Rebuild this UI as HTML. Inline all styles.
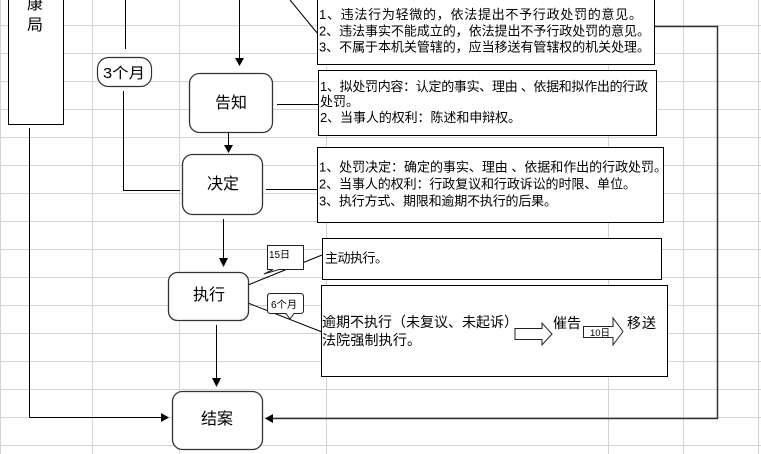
<!DOCTYPE html>
<html>
<head>
<meta charset="utf-8">
<style>
html,body{margin:0;padding:0;background:#fff;}
svg{display:block;}
text{font-family:"Liberation Sans","Noto Sans CJK SC",sans-serif;fill:#000;}
</style>
</head>
<body>
<svg width="761" height="454" viewBox="0 0 761 454" xmlns="http://www.w3.org/2000/svg">
<!-- grid -->
<g stroke="#d4d4d4" stroke-width="1">
<line x1="0" y1="25.5" x2="761" y2="25.5"/>
<line x1="0" y1="53.5" x2="761" y2="53.5"/>
<line x1="0" y1="81.5" x2="761" y2="81.5"/>
<line x1="0" y1="109.5" x2="761" y2="109.5"/>
<line x1="0" y1="137.5" x2="761" y2="137.5"/>
<line x1="0" y1="165.5" x2="761" y2="165.5"/>
<line x1="0" y1="193.5" x2="761" y2="193.5"/>
<line x1="0" y1="221.5" x2="761" y2="221.5"/>
<line x1="0" y1="249.5" x2="761" y2="249.5"/>
<line x1="0" y1="277.5" x2="761" y2="277.5"/>
<line x1="0" y1="305.5" x2="761" y2="305.5"/>
<line x1="0" y1="333.5" x2="761" y2="333.5"/>
<line x1="0" y1="361.5" x2="761" y2="361.5"/>
<line x1="0" y1="389.5" x2="761" y2="389.5"/>
<line x1="0" y1="417.5" x2="761" y2="417.5"/>
<line x1="0" y1="445.5" x2="761" y2="445.5"/>
<line x1="0.5" y1="0" x2="0.5" y2="454"/>
<line x1="92.5" y1="0" x2="92.5" y2="454"/>
<line x1="179.5" y1="0" x2="179.5" y2="454"/>
<line x1="326.5" y1="0" x2="326.5" y2="454"/>
<line x1="608.5" y1="0" x2="608.5" y2="454"/>
<line x1="683.5" y1="0" x2="683.5" y2="454"/>
<line x1="758.5" y1="0" x2="758.5" y2="454"/>
</g>

<!-- connector lines -->
<g stroke="#000" stroke-width="1" fill="none">
<line x1="29.5" y1="128" x2="29.5" y2="417.5"/>
<line x1="29.5" y1="417.5" x2="163" y2="417.5"/>
<line x1="125.5" y1="0" x2="125.5" y2="49"/>
<polyline points="123.5,91 123.5,190.5 180,190.5"/>
<line x1="239.5" y1="0" x2="239.5" y2="59"/>
<line x1="290" y1="0" x2="318" y2="34"/>
<line x1="277" y1="104.5" x2="318" y2="104.5"/>
<line x1="228.5" y1="133" x2="228.5" y2="146"/>
<line x1="266" y1="189.5" x2="317" y2="189.5"/>
<line x1="223.5" y1="219" x2="223.5" y2="259"/>
<line x1="248" y1="285" x2="322" y2="255"/>
<line x1="248" y1="303" x2="322" y2="332"/>
<line x1="216.5" y1="325" x2="216.5" y2="379"/>
<polyline points="655,26.5 717.5,26.5 717.5,418.5 272,418.5" stroke="#333" stroke-width="1.5"/>
</g>
<!-- arrowheads -->
<g fill="#000">
<polygon points="235,58 244,58 239.5,66"/>
<polygon points="224,145 233,145 228.5,153"/>
<polygon points="219,258 228,258 223.5,267"/>
<polygon points="212,378 221,378 216.5,387"/>
<polygon points="161,413 161,422 169,417.5"/>
<polygon points="273,414 273,423 265,418.5"/>
</g>

<!-- left tall box -->
<rect x="8.5" y="-2" width="55" height="126.5" fill="#fff" stroke="#000" stroke-width="1"/>
<text x="35" y="9" font-size="16" text-anchor="middle">康</text>
<text x="35" y="30" font-size="16" text-anchor="middle">局</text>

<!-- 3个月 capsule -->
<rect x="97.5" y="57.5" width="54" height="29" rx="11" ry="11" fill="#fff" stroke="#333" stroke-width="1.2"/>
<text x="103" y="78" font-size="15" textLength="42" lengthAdjust="spacingAndGlyphs">3个月</text>

<!-- rounded process boxes -->
<g fill="#fff" stroke="#333" stroke-width="1.3">
<rect x="189.5" y="73.5" width="83" height="59" rx="10" ry="10"/>
<rect x="182.5" y="154.5" width="80" height="60" rx="10" ry="10"/>
<rect x="168.5" y="272.5" width="80" height="48" rx="9" ry="9"/>
<rect x="172.5" y="391.5" width="90" height="58" rx="10" ry="10"/>
</g>
<text x="231" y="108" font-size="16" text-anchor="middle">告知</text>
<text x="223" y="189" font-size="16" text-anchor="middle">决定</text>
<text x="209" y="300" font-size="16" text-anchor="middle">执行</text>
<text x="217" y="424" font-size="16" text-anchor="middle">结案</text>

<!-- text boxes -->
<g fill="#fff" stroke="#000" stroke-width="1">
<rect x="317.5" y="-2" width="337" height="66.5"/>
<rect x="318.5" y="70.5" width="338" height="65"/>
<rect x="317.5" y="147.5" width="346" height="75"/>
<rect x="322.5" y="238.5" width="339" height="41"/>
<rect x="321.5" y="285.5" width="346" height="91"/>
</g>

<g font-size="13">
<text x="319" y="19" textLength="323" lengthAdjust="spacing">1、违法行为轻微的，依法提出不予行政处罚的意见。</text>
<text x="319" y="35.5" textLength="331" lengthAdjust="spacing">2、违法事实不能成立的，依法提出不予行政处罚的意见。</text>
<text x="319" y="51.5" textLength="331" lengthAdjust="spacing">3、不属于本机关管辖的，应当移送有管辖权的机关处理。</text>

<text x="320" y="91" textLength="328" lengthAdjust="spacing">1、拟处罚内容：认定的事实、理由 、依据和拟作出的行政</text>
<text x="320" y="106">处罚。</text>
<text x="320" y="122" textLength="201" lengthAdjust="spacing">2、当事人的权利：陈述和申辩权。</text>

<text x="319" y="171.5" textLength="348" lengthAdjust="spacing">1、处罚决定：确定的事实、理由 、依据和作出的行政处罚。</text>
<text x="319" y="188.5" textLength="317" lengthAdjust="spacing">2、当事人的权利：行政复议和行政诉讼的时限、单位。</text>
<text x="319" y="205.5" textLength="238" lengthAdjust="spacing">3、执行方式、期限和逾期不执行的后果。</text>

<text x="325" y="262.5" textLength="63" lengthAdjust="spacing">主动执行。</text>
</g>

<g font-size="14">
<text x="322" y="327" textLength="196" lengthAdjust="spacing">逾期不执行（未复议、未起诉）</text>
<text x="322" y="345" textLength="99" lengthAdjust="spacing">法院强制执行。</text>
<text x="553" y="328" textLength="28" lengthAdjust="spacing">催告</text>
<text x="627" y="328" textLength="29" lengthAdjust="spacing">移送</text>
</g>

<!-- block arrows -->
<polygon points="515,328.5 542,328.5 542,323 552,334 542,345 542,339.5 515,339.5" fill="#fff" stroke="#222" stroke-width="1"/>
<polygon points="583.5,326.5 613,326.5 613,318 623,331.5 613,345 613,337.5 583.5,337.5" fill="#fff" stroke="#222" stroke-width="1"/>
<text x="590" y="336" font-size="9.5" textLength="20" lengthAdjust="spacingAndGlyphs">10日</text>

<!-- callouts -->
<path d="M267.5,245.5 H303.5 V269.5 H279 L264,274 L273,269.5 H267.5 Z" fill="#fff" stroke="#222" stroke-width="1"/>
<text x="269" y="258" font-size="10" textLength="21" lengthAdjust="spacingAndGlyphs">15日</text>
<path d="M270.5,293.5 H300.5 Q303.5,293.5 303.5,296.5 V310.5 Q303.5,313.5 300.5,313.5 H294 L290,319 L286,313.5 H270.5 Q267.5,313.5 267.5,310.5 V296.5 Q267.5,293.5 270.5,293.5 Z" fill="#fff" stroke="#222" stroke-width="1"/>
<text x="271" y="308" font-size="10" textLength="26" lengthAdjust="spacingAndGlyphs">6个月</text>
</svg>
</body>
</html>
